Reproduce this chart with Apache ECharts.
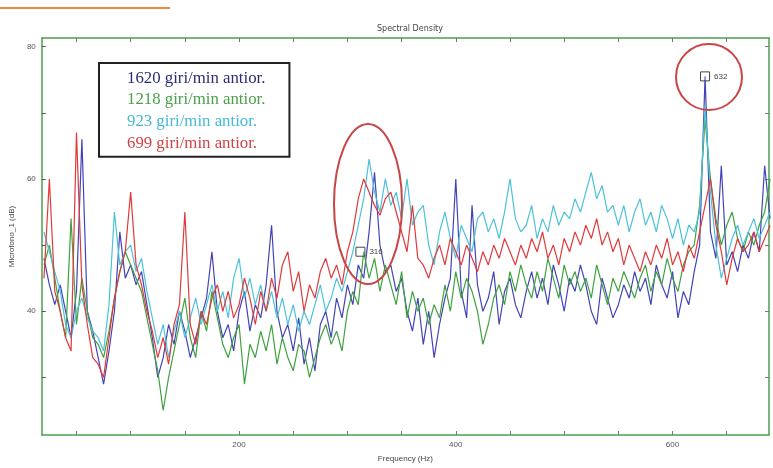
<!DOCTYPE html>
<html>
<head>
<meta charset="utf-8">
<script src="https://cdn.jsdelivr.net/npm/echarts@6/dist/echarts.min.js"></script>
<style>
html, body { margin: 0; padding: 0; background: #fff; }
#chart { width: 773px; height: 468px; }
</style>
</head>
<body>
<div id="chart"></div>
<script>
// frequency grid (Hz)
const freq = [20,25,30,35,40,45,50,55,60,65,70,75,80,85,90,95,100,105,110,115,
  120,125,130,135,140,145,150,155,160,165,170,175,180,185,190,195,200,205,210,215,
  220,225,230,235,240,245,250,255,260,265,270,275,280,285,290,295,300,305,310,315,
  320,325,330,335,340,345,350,355,360,365,370,375,380,385,390,395,400,405,410,415,
  420,425,430,435,440,445,450,455,460,465,470,475,480,485,490,495,500,505,510,515,
  520,525,530,535,540,545,550,555,560,565,570,575,580,585,590,595,600,605,610,615,
  620,625,630,635,640,645,650,655,660,665,670,675,680,685,690]

const names = ['1620 giri/min antior.', '1218 giri/min antior.', '923 giri/min antior.', '699 giri/min antior.']

const rpm1620 = [48,44,41,44,40,36,43,66,40,37,
  33,29,34,40,52,45,47,44,46,41,
  36,30,33,38,35,40,37,33,36,39,
  42,49,40,36,38,34,40,43,37,41,
  39,44,53,40,36,38,34,39,32,36,
  31,38,40,36,42,39,44,41,47,45,
  52,61,50,46,47,43,45,40,37,42,
  35,40,33,38,42,45,60,43,39,56,
  44,40,42,46,38,43,45,41,39,43,
  46,42,45,41,47,44,40,45,43,47,
  44,40,38,45,42,39,41,44,42,46,
  43,45,41,47,44,42,46,39,43,41,
  46,50,75.5,52,48,62,47,49,46,50,
  48,52,49,62,54]

const rpm1218 = [47,50,45,40,36,54,38,45,40,36,
  35,33,37,42,46,49,47,45,43,39,
  35,31,25,30,34,38,42,36,33,40,
  37,43,39,35,33,36,38,29,35,33,
  37,34,38,32,36,33,31,35,34,30,
  33,36,38,35,37,34,40,43,41,49,
  45,48,43,47,44,41,46,39,43,40,
  42,38,41,39,44,40,46,42,45,43,
  40,35,38,42,44,41,46,43,47,44,
  42,46,43,48,45,42,47,44,46,43,
  45,42,47,44,41,45,43,46,44,42,
  45,47,43,46,44,48,45,43,47,49,
  50,56,69,60,54,50,53,55,51,49,
  52,50,53,55,60]

const rpm923 = [52,49,46,43,38,36,40,42,39,37,
  36,34,41,55,47,49,50,46,48,43,
  39,35,38,33,37,40,36,39,42,38,
  41,44,40,43,39,45,48,42,45,41,
  44,40,43,39,42,38,41,37,40,38,
  41,44,40,42,45,43,46,49,53,57,
  63,58,55,60,56,58,54,60,53,55,
  56,50,47,52,55,51,48,53,51,49,
  54,55,52,54,51,55,60,54,52,53,
  56,51,54,52,56,53,55,54,57,55,
  58,61,57,59,55,56,53,56,52,55,
  57,53,55,52,56,54,51,54,50,53,
  52,55,71,58,50,45,48,51,53,50,
  52,54,51,53,55]

const rpm699 = [45,60,43,40,36,34,67,44,38,33,
  32,30,36,42,46,49,58,47,44,40,
  37,33,36,32,38,41,55,38,35,40,
  38,42,44,40,43,39,41,45,42,38,
  43,40,45,42,47,49,43,46,40,44,
  42,46,48,45,47,44,49,52,57,60,
  58,56,54.5,57,58,55,52,49,56,48,
  47,45,48,50,47,51,49,47,50,48,
  46,49,47,50,48,51,49,47,50,48,
  51,49,52,48,50,47,51,49,52,50,
  53,51,54,50,52,49,51,47,50,48,
  46,49,47,50,48,51,47,49,46,50,
  48,52,56,60,53,49,44,48,51,49,
  50,52,49,51,53]

const lineColors = ['#4343b8', '#3fa23f', '#4cc2da', '#e03a3a']
const textColors = ['#2c2c72', '#4aa04a', '#44bad8', '#d24444']
const allValues = [rpm1620, rpm1218, rpm923, rpm699]

const frameColor = '#4f9d4f'
const tickFreq = [50,100,150,200,250,300,350,400,450,500,550,600,650]
const tickDb = [30,40,50,60,70,80]

let chart = echarts.init(document.getElementById('chart'), null, { renderer: 'canvas' })

let series = allValues.map((vals, i) => ({
  name: names[i],
  type: 'line',
  showSymbol: false,
  symbol: 'none',
  animation: false,
  lineStyle: { width: 1.2, color: lineColors[i] },
  itemStyle: { color: lineColors[i] },
  data: freq.map((f, k) => [f, vals[k]])
}))

// datatips
series[0].markPoint = {
  symbol: 'rect',
  symbolSize: 9,
  itemStyle: { color: 'rgba(255,255,255,0.2)', borderColor: '#444', borderWidth: 1 },
  label: { show: true, position: 'right', distance: 4, fontSize: 8, color: '#444', formatter: '632' },
  data: [{ coord: [630, 75.5] }]
}
series[1].markPoint = {
  symbol: 'rect',
  symbolSize: 9,
  itemStyle: { color: 'rgba(255,255,255,0.2)', borderColor: '#444', borderWidth: 1 },
  label: { show: true, position: 'right', distance: 4, fontSize: 8, color: '#444', formatter: '316' },
  data: [{ coord: [312, 49] }]
}

let chartOpt = {
  animation: false,
  title: {
    text: 'Spectral Density',
    left: 405,
    textAlign: 'center',
    top: 20,
    textStyle: { fontSize: 8, fontWeight: 'normal', color: '#444', fontFamily: 'DejaVu Sans' }
  },
  legend: {
    data: names.map((n, i) => ({ name: n, textStyle: { color: textColors[i] } })),
    orient: 'vertical',
    left: 99,
    top: 63,
    icon: 'rect',
    itemWidth: 0,
    itemHeight: 17,
    itemGap: 4.6,
    padding: [7, 24, 5, 23],
    backgroundColor: '#fff',
    borderColor: '#222',
    borderWidth: 2,
    selectedMode: false,
    textStyle: { fontSize: 16.8, fontFamily: 'Liberation Serif', lineHeight: 17 }
  },
  grid: { left: 41, right: 4, top: 38, bottom: 28 },
  xAxis: [{
    type: 'value',
    min: 18,
    max: 689,
    position: 'bottom',
    name: 'Frequency (Hz)',
    nameLocation: 'middle',
    nameGap: 20,
    nameTextStyle: { fontSize: 8, color: '#444' },
    axisLine: { show: true, lineStyle: { color: frameColor, width: 1.5 } },
    axisTick: { show: true, inside: true, length: 4, customValues: tickFreq, lineStyle: { color: '#777' } },
    axisLabel: { fontSize: 8, color: '#555', margin: 6, customValues: [200, 400, 600] },
    splitLine: { show: false }
  }, {
    type: 'value',
    min: 18,
    max: 689,
    position: 'top',
    axisLine: { show: true, lineStyle: { color: frameColor, width: 1.5 } },
    axisTick: { show: true, inside: true, length: 4, customValues: tickFreq, lineStyle: { color: '#777' } },
    axisLabel: { show: false },
    splitLine: { show: false }
  }],
  yAxis: [{
    type: 'value',
    min: 21.3,
    max: 81.3,
    position: 'left',
    name: 'Microfono_1 (dB)',
    nameLocation: 'middle',
    nameGap: 24,
    nameTextStyle: { fontSize: 8, color: '#444' },
    axisLine: { show: true, lineStyle: { color: frameColor, width: 1.5 } },
    axisTick: { show: true, inside: true, length: 4, customValues: tickDb, lineStyle: { color: '#555' } },
    axisLabel: { fontSize: 8, color: '#555', margin: 6, customValues: [40, 60, 80] },
    splitLine: { show: false }
  }, {
    type: 'value',
    min: 21.3,
    max: 81.3,
    position: 'right',
    axisLine: { show: true, lineStyle: { color: frameColor, width: 1.5 } },
    axisTick: { show: true, inside: true, length: 4, customValues: tickDb, lineStyle: { color: '#777' } },
    axisLabel: { show: false },
    splitLine: { show: false }
  }],
  series: series,
  graphic: [
    { type: 'line', shape: { x1: 0, y1: 8, x2: 170, y2: 8 }, style: { stroke: '#f0883a', lineWidth: 2 } },
    { type: 'ellipse', z: 100, shape: { cx: 368, cy: 204, rx: 34, ry: 80 }, style: { fill: null, stroke: '#c94545', lineWidth: 2 } },
    { type: 'circle', z: 100, shape: { cx: 709, cy: 77, r: 33 }, style: { fill: null, stroke: '#c94545', lineWidth: 2 } }
  ]
}

chart.setOption(chartOpt)
</script>
</body>
</html>
